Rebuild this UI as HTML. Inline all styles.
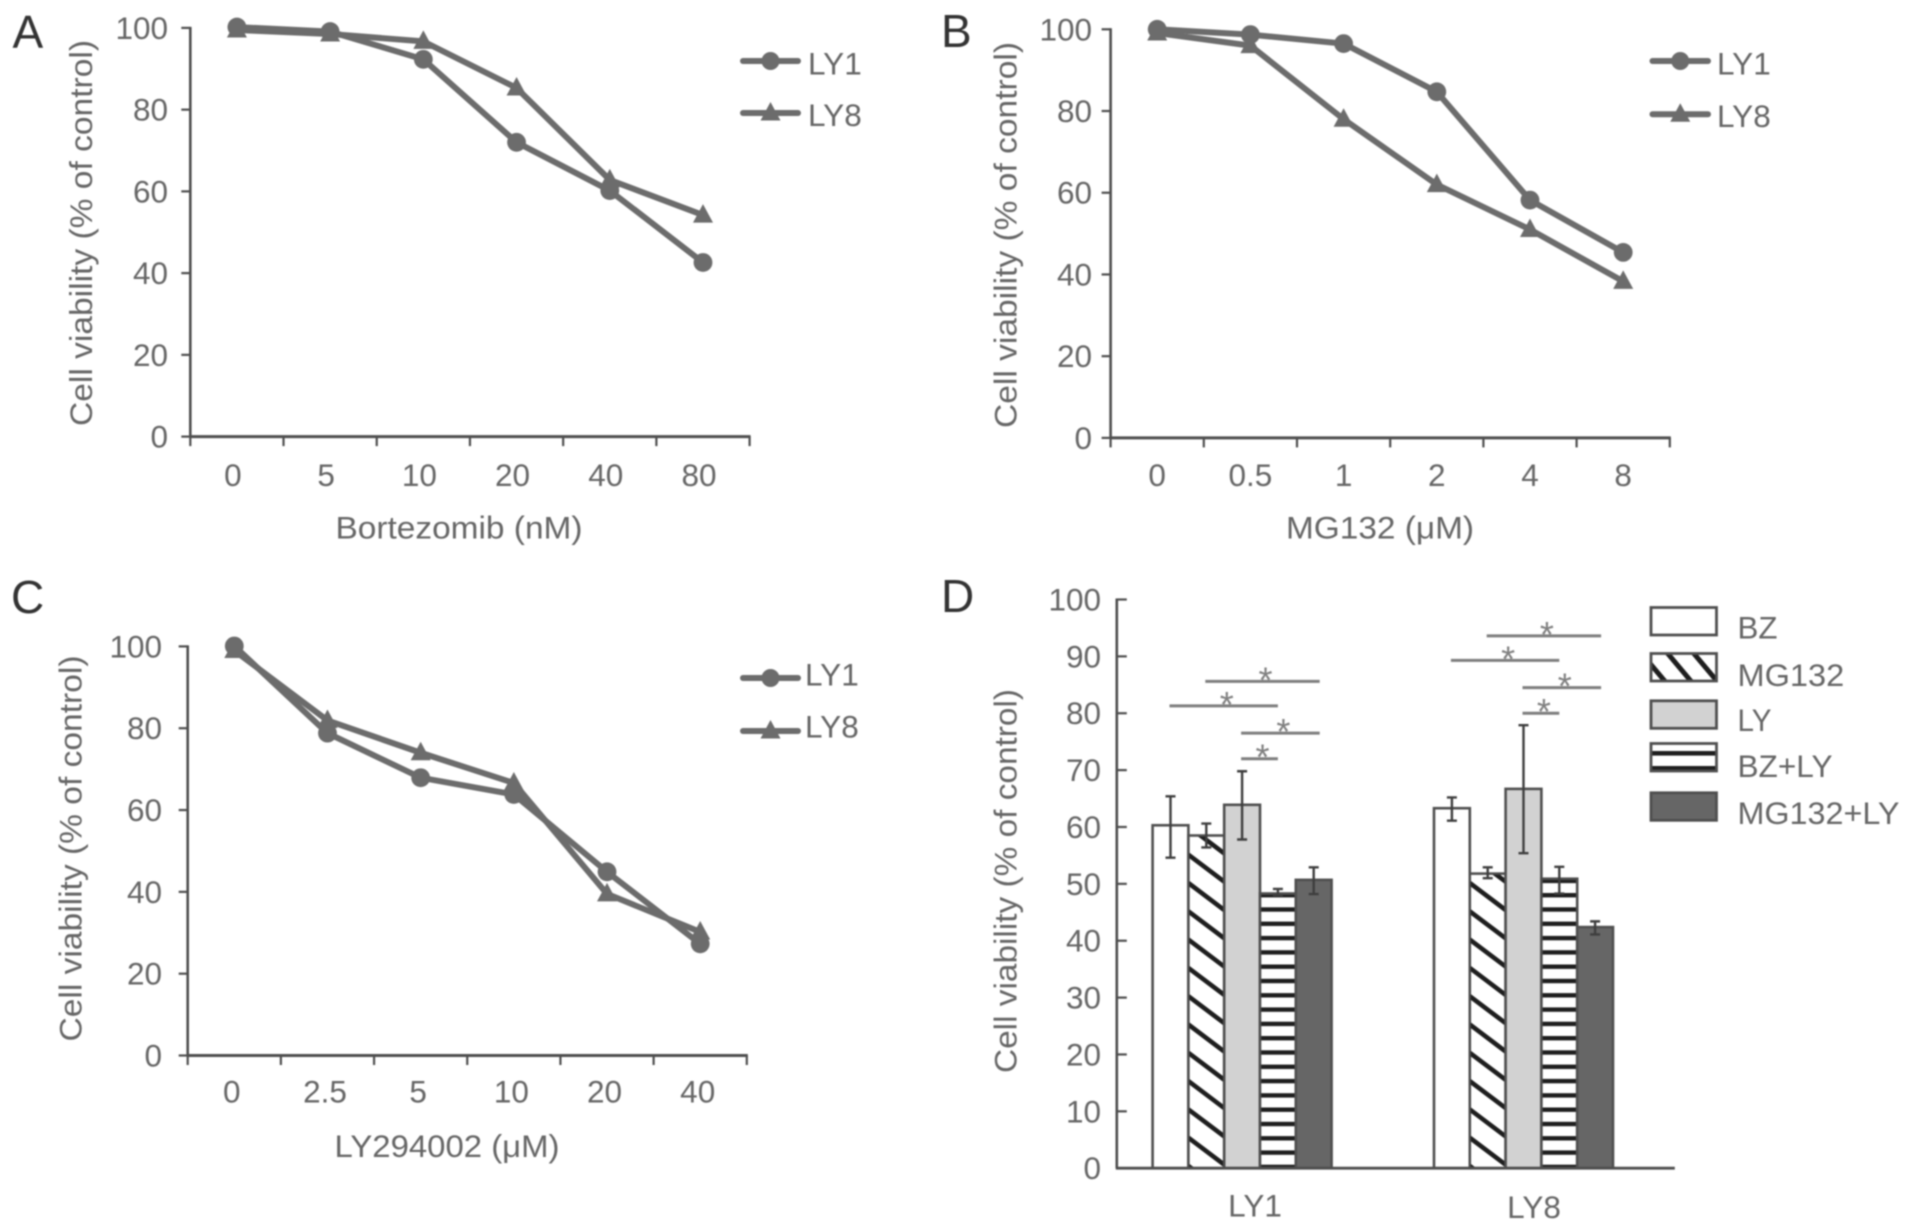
<!DOCTYPE html>
<html lang="en">
<head>
<meta charset="utf-8">
<title>Cell viability charts</title>
<style>
  html, body { margin: 0; padding: 0; background: #fff; width: 1913px; height: 1232px; overflow: hidden; }
  svg { position: absolute; left: 0; top: 0; filter: blur(0.7px); }
  text { font-family: "Liberation Sans", "DejaVu Sans", sans-serif; font-size: 31.5px; fill: #666; }
  .letter { font-size: 46px; fill: #333; }
</style>
</head>
<body>
<svg id="figure" xmlns="http://www.w3.org/2000/svg" width="1913" height="1232" viewBox="0 0 1913 1232">
  <defs>
    <pattern id="diag-legend" patternUnits="userSpaceOnUse" width="20" height="20" patternTransform="rotate(50)">
      <rect width="20" height="20" fill="#fff"></rect>
      <rect width="20" height="5" fill="#1e1e1e"></rect>
    </pattern>
    <pattern id="stripe-bar" patternUnits="userSpaceOnUse" x="0" y="893" width="20" height="14.3">
      <rect width="20" height="14.3" fill="#fff"></rect>
      <rect width="20" height="4.4" fill="#1e1e1e"></rect>
    </pattern>
    <pattern id="stripe-legend" patternUnits="userSpaceOnUse" x="0" y="751" width="20" height="15">
      <rect width="20" height="15" fill="#fff"></rect>
      <rect width="20" height="4.6" fill="#1e1e1e"></rect>
    </pattern>
  </defs>
</svg>
<script>
// ---------- Chart data ----------
const yTicksLine = [0, 20, 40, 60, 80, 100];
const yTicksBar = [0, 10, 20, 30, 40, 50, 60, 70, 80, 90, 100];

const aCategories = ['0', '5', '10', '20', '40', '80'];
const aLy1 = [100.2, 99.1, 92.3, 72, 60.2, 42.6];
const aLy8 = [99.5, 98.5, 96.7, 85.3, 62.8, 54.2];

const bCategories = ['0', '0.5', '1', '2', '4', '8'];
const bLy1 = [100, 98.7, 96.5, 84.7, 58.2, 45.4];
const bLy8 = [99.1, 96, 78, 62, 51, 38.3];

const cCategories = ['0', '2.5', '5', '10', '20', '40'];
const cLy1 = [100.1, 78.8, 67.9, 63.8, 44.9, 27.3];
const cLy8 = [99, 81.9, 74, 66.6, 39.5, 30.2];

const dCategories = ['LY1', 'LY8'];
const dSeries = ['BZ', 'MG132', 'LY', 'BZ+LY', 'MG132+LY'];
const dLy1Values = [60.3, 58.5, 63.9, 48.3, 50.7];
const dLy8Values = [63.3, 51.8, 66.7, 50.9, 42.4];
const dLy1ErrHigh = [65.4, 60.6, 69.8, 49.1, 52.9];
const dLy1ErrLow = [54.6, 56.4, 57.8, 48, 48.2];
const dLy8ErrHigh = [65.2, 52.9, 77.9, 53, 43.4];
const dLy8ErrLow = [61.1, 51, 55.4, 48.3, 41.1];
const sigFromBar = [0, 1, 2, 2];
const sigToBar = [3, 4, 4, 3];
const dLy1SigLevels = [81.3, 85.6, 76.5, 72];
const dLy8SigLevels = [89.3, 93.6, 84.5, 80];

// ---------- Helpers ----------
const NS = 'http://www.w3.org/2000/svg';
const figure = document.getElementById('figure');
const GREY = '#6c6c6c';
const AXIS = '#4e4e4e';

function make(tag, attrs, parent) {
  const el = document.createElementNS(NS, tag);
  for (const k in attrs) el.setAttribute(k, attrs[k]);
  parent.appendChild(el);
  return el;
}
function label(str, x, y, anchor, parent) {
  const t = make('text', { x: x, y: y, 'text-anchor': anchor }, parent);
  t.textContent = str;
  return t;
}
function fitted(el, len) {
  el.setAttribute('textLength', len);
  el.setAttribute('lengthAdjust', 'spacingAndGlyphs');
}
function triPoints(cx, cy) {
  return (cx - 10) + ',' + (cy + 7.5) + ' ' + (cx + 10) + ',' + (cy + 7.5) + ' ' + cx + ',' + (cy - 11);
}

// ---------- Line chart ----------
function drawLineChart(cfg, categories, ly1, ly8) {
  const g = make('g', {}, figure);
  
  

  const band = (cfg.right - cfg.left) / categories.length;
  const xScale = function (i) { return cfg.left + band * (i + 0.5); };
  const yScale = function (v) { return cfg.y0 + (cfg.y100 - cfg.y0) * v / 100; };

  const letter = label(cfg.letter, cfg.letterX, cfg.letterY, 'start', g);
  letter.setAttribute('class', 'letter');
  
  

  const yAxis = make('line', { x1: cfg.left, x2: cfg.left, y1: cfg.y100 - 1, y2: cfg.y0, stroke: AXIS, 'stroke-width': 2.6 }, g);
  
  

  const xAxis = make('line', { x1: cfg.left - 1, x2: cfg.right + 1, y1: cfg.y0, y2: cfg.y0, stroke: AXIS, 'stroke-width': 3 }, g);
  
  

  yTicksLine.forEach(function (v) {
    const tick = make('line', { x1: cfg.left - 9, x2: cfg.left, y1: yScale(v), y2: yScale(v), stroke: AXIS, 'stroke-width': 2.2 }, g);
    
    
    const t = label(String(v), cfg.yLabelRight, yScale(v) + 11, 'end', g);
    
    
  });

  for (let i = 0; i <= categories.length; i++) {
    const x = cfg.left + band * i;
    const tick = make('line', { x1: x, x2: x, y1: cfg.y0, y2: cfg.y0 + 9.5, stroke: AXIS, 'stroke-width': 2.2 }, g);
    
    
  }
  categories.forEach(function (c, i) {
    const t = label(c, xScale(i) + cfg.labelDx, cfg.xTickBase, 'middle', g);
    
    
  });

  const xTitle = label(cfg.xTitle, cfg.xTitleX, cfg.xTitleBase, 'middle', g);
  fitted(xTitle, cfg.xTitleLen);
  
  

  const yTitle = label('Cell viability (% of control)', 0, 0, 'middle', g);
  yTitle.setAttribute('transform', 'translate(' + cfg.yTitleX + ',' + cfg.yTitleMid + ') rotate(-90)');
  fitted(yTitle, 386);
  
  

  const pathOf = function (vals) {
    return vals.map(function (v, i) { return xScale(i) + ',' + yScale(v); }).join(' ');
  };

  const line8 = make('polyline', { points: pathOf(ly8), fill: 'none', stroke: GREY, 'stroke-width': 6, 'stroke-linejoin': 'round' }, g);
  
  

  const line1 = make('polyline', { points: pathOf(ly1), fill: 'none', stroke: GREY, 'stroke-width': 6, 'stroke-linejoin': 'round' }, g);
  
  

  ly8.forEach(function (v, i) {
    const m = make('polygon', { points: triPoints(xScale(i), yScale(v)), fill: GREY }, g);
    
    
  });
  ly1.forEach(function (v, i) {
    const m = make('circle', { cx: xScale(i), cy: yScale(v), r: 9.4, fill: GREY }, g);
    
    
  });

  // legend
  const k1 = make('g', {}, g);
  
  
  make('line', { x1: cfg.legX1, x2: cfg.legX2, y1: cfg.legY1, y2: cfg.legY1, stroke: GREY, 'stroke-width': 6, 'stroke-linecap': 'round' }, k1);
  make('circle', { cx: (cfg.legX1 + cfg.legX2) / 2, cy: cfg.legY1, r: 9, fill: GREY }, k1);
  label('LY1', cfg.legTextX, cfg.legBase1, 'start', k1);

  const k8 = make('g', {}, g);
  
  
  make('line', { x1: cfg.legX1, x2: cfg.legX2, y1: cfg.legY2, y2: cfg.legY2, stroke: GREY, 'stroke-width': 6, 'stroke-linecap': 'round' }, k8);
  make('polygon', { points: triPoints((cfg.legX1 + cfg.legX2) / 2, cfg.legY2), fill: GREY }, k8);
  label('LY8', cfg.legTextX, cfg.legBase2, 'start', k8);
}

drawLineChart({
  name: 'panel-a-bortezomib', letter: 'A', letterX: 12.5, letterY: 48,
  left: 190.3, right: 749.6, y100: 27.9, y0: 436.6, yLabelRight: 168, labelDx: -4, xTickBase: 486,
  xTitle: 'Bortezomib (nM)', xTitleX: 459, xTitleLen: 247, xTitleBase: 538.5, yTitleX: 92, yTitleMid: 233,
  legX1: 743, legX2: 798, legY1: 61, legY2: 113, legTextX: 808, legBase1: 74.5, legBase2: 126
}, aCategories, aLy1, aLy8);

drawLineChart({
  name: 'panel-b-mg132', letter: 'B', letterX: 941, letterY: 47,
  left: 1110.6, right: 1669.8, y100: 29.3, y0: 437.9, yLabelRight: 1092, labelDx: 0, xTickBase: 486,
  xTitle: 'MG132 (\u03BCM)', xTitleX: 1380, xTitleLen: 188, xTitleBase: 538.5, yTitleX: 1016.5, yTitleMid: 235,
  legX1: 1652.5, legX2: 1708, legY1: 61, legY2: 114.3, legTextX: 1717, legBase1: 74.5, legBase2: 127
}, bCategories, bLy1, bLy8);

drawLineChart({
  name: 'panel-c-ly294002', letter: 'C', letterX: 11, letterY: 613,
  left: 187.7, right: 746.8, y100: 646.4, y0: 1055.5, yLabelRight: 162, labelDx: -2.5, xTickBase: 1102.5,
  xTitle: 'LY294002 (\u03BCM)', xTitleX: 447, xTitleLen: 225, xTitleBase: 1157, yTitleX: 81.5, yTitleMid: 848.5,
  legX1: 743, legX2: 798, legY1: 678, legY2: 731, legTextX: 805, legBase1: 685.5, legBase2: 737.5
}, cCategories, cLy1, cLy8);

// ---------- Bar chart ----------
(function drawBarChart() {
  const left = 1116.8, right = 1674.8, y100 = 599.5, y0 = 1168.2;
  const barW = 35.8, groupStart = 1152.6, groupStep = 281.4;
  const yScale = function (v) { return y0 + (y100 - y0) * v / 100; };
  const barX = function (g, s) { return groupStart + groupStep * g + barW * s; };
  const fills = ['#ffffff', '#ffffff', '#d2d2d2', 'url(#stripe-bar)', '#666666'];
  const keyFills = ['#ffffff', 'url(#diag-legend)', '#d2d2d2', 'url(#stripe-legend)', '#666666'];
  const HATCH_SERIES = 1, HATCH_PERIOD = 28.3, HATCH_DROP = 27, HATCH_ANCHOR = 883;

  const g = make('g', {}, figure);
  
  

  const letter = label('D', 941, 612, 'start', g);
  letter.setAttribute('class', 'letter');
  
  

  yTicksBar.forEach(function (v) {
    const tick = make('line', { x1: left, x2: left + 10, y1: yScale(v), y2: yScale(v), stroke: AXIS, 'stroke-width': 2.2 }, g);
    
    
    const t = label(String(v), 1101, yScale(v) + 11, 'end', g);
    
    
  });

  const yTitle = label('Cell viability (% of control)', 0, 0, 'middle', g);
  yTitle.setAttribute('transform', 'translate(1016.5,881) rotate(-90)');
  fitted(yTitle, 384);
  
  

  const valueSets = [dLy1Values, dLy8Values];
  const highSets = [dLy1ErrHigh, dLy8ErrHigh];
  const lowSets = [dLy1ErrLow, dLy8ErrLow];
  const sigSets = [dLy1SigLevels, dLy8SigLevels];

  valueSets.forEach(function (vals, gi) {
    vals.forEach(function (v, si) {
      const bx = barX(gi, si);
      const by = yScale(v);
      const bar = make('rect', {
        x: bx, y: by, width: barW, height: y0 - by,
        fill: fills[si], stroke: '#4f4f4f', 'stroke-width': 2.6
      }, g);
      
      

      if (si === HATCH_SERIES) {
        const clipId = 'hatch-clip-' + gi;
        const clip = make('clipPath', { id: clipId }, g);
        make('rect', { x: bx + 1, y: by + 1, width: barW - 2, height: y0 - by - 2 }, clip);
        let d = '';
        for (let yy = HATCH_ANCHOR - HATCH_PERIOD * 14; yy < y0; yy += HATCH_PERIOD) {
          d += 'M' + bx + ' ' + yy + 'L' + (bx + barW) + ' ' + (yy + HATCH_DROP);
        }
        const hatch = make('path', { d: d, fill: 'none', stroke: '#1e1e1e', 'stroke-width': 4.6, 'clip-path': 'url(#' + clipId + ')' }, g);
        
        
      }
    });
    vals.forEach(function (v, si) {
      const cx = barX(gi, si) + barW / 2;
      const yh = yScale(highSets[gi][si]);
      const yl = yScale(lowSets[gi][si]);
      const eb = make('path', {
        d: 'M' + cx + ' ' + yh + 'V' + yl + 'M' + (cx - 5) + ' ' + yh + 'H' + (cx + 5) + 'M' + (cx - 5) + ' ' + yl + 'H' + (cx + 5),
        fill: 'none', stroke: '#3e3e3e', 'stroke-width': 2.4
      }, g);
      
      
    });
    sigSets[gi].forEach(function (level, k) {
      const x1 = barX(gi, sigFromBar[k]) + barW / 2 - 1;
      const x2 = barX(gi, sigToBar[k]) + barW / 2 + (sigToBar[k] === 4 ? 6 : 0);
      const yy = yScale(level);
      const sigLine = make('line', { x1: x1, x2: x2, y1: yy, y2: yy, stroke: '#7e7e7e', 'stroke-width': 3 }, g);
      
      
      const star = label('*', (x1 + x2) / 2 + 3, yy + 11, 'middle', g);
      star.setAttribute('style', 'fill:#808080;font-size:36px');
      
      
    });
  });

  const yAxis = make('line', { x1: left, x2: left, y1: y100 - 1, y2: y0, stroke: AXIS, 'stroke-width': 2.6 }, g);
  
  
  const xAxis = make('line', { x1: left - 1, x2: right, y1: y0, y2: y0, stroke: AXIS, 'stroke-width': 2.8 }, g);
  
  

  const catCenters = [1255, 1534];
  const catBase = [1216.5, 1218];
  dCategories.forEach(function (c, i) {
    const t = label(c, catCenters[i], catBase[i], 'middle', g);
    
    
  });

  const keyTop = [607.5, 653.5, 700.8, 743.5, 792.8];
  const keyBase = [638.5, 685.8, 731, 776.8, 824];
  const keyLen = [40, 106.7, 34, 95, 162];
  dSeries.forEach(function (name, i) {
    const k = make('g', {}, g);
    
    
    make('rect', { x: 1651, y: keyTop[i], width: 65.5, height: 27.5, fill: keyFills[i], stroke: '#4f4f4f', 'stroke-width': 2.8 }, k);
    const t = label(name, 1737.5, keyBase[i], 'start', k);
    fitted(t, keyLen[i]);
  });
})();
</script>
</body>
</html>
